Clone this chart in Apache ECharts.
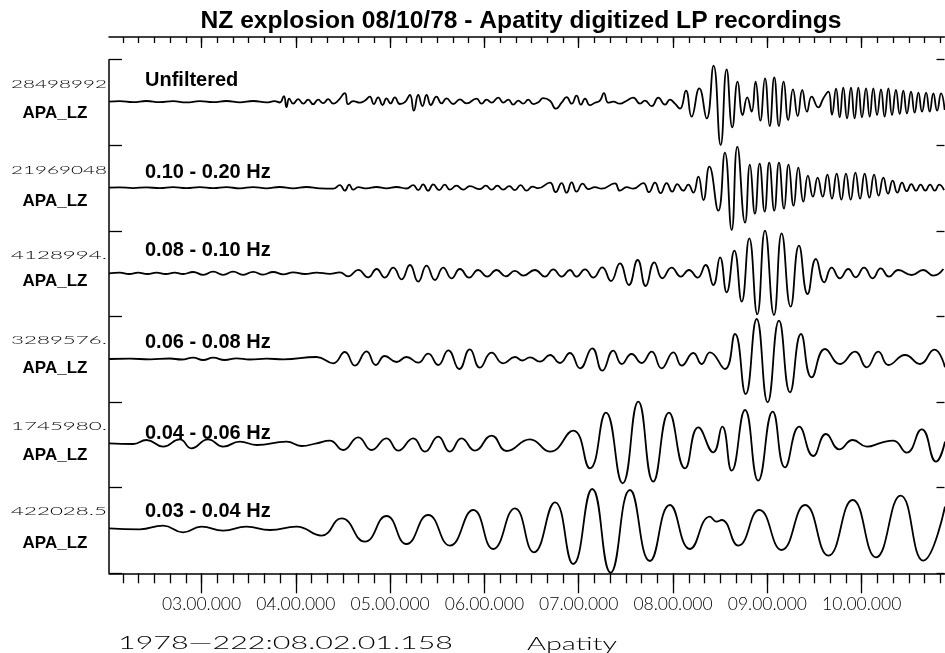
<!DOCTYPE html>
<html><head><meta charset="utf-8">
<script src="https://cdn.jsdelivr.net/npm/echarts@6/dist/echarts.min.js"></script>
<style>html,body{margin:0;padding:0;background:#fff}#c{width:945px;height:653px}</style>
</head><body><div id="c"></div>
<script>
// ---------------- DATA (time in seconds after 08:00:00, amplitude in plot units) ----------------
const titleText = 'NZ explosion 08/10/78 - Apatity digitized LP recordings';
const startTime = 121.158;   // 1978-222 08:02:01.158
const endTime = 652.7;
const majorTicks = [180, 240, 300, 360, 420, 480, 540, 600];
const tickLabels = ['03.00.000', '04.00.000', '05.00.000', '06.00.000', '07.00.000', '08.00.000', '09.00.000', '10.00.000'];
const scaleLabels = ['28498992', '21969048', '4128994.', '3289576.', '1745980.', '422028.5'];
const stationLabels = ['APA_LZ', 'APA_LZ', 'APA_LZ', 'APA_LZ', 'APA_LZ', 'APA_LZ'];
const bandLabels = ['Unfiltered', '0.10 - 0.20 Hz', '0.08 - 0.10 Hz', '0.06 - 0.08 Hz', '0.04 - 0.06 Hz', '0.03 - 0.04 Hz'];
const footerLeft = '1978\u2014222:08.02.01.158';
const footerRight = 'Apatity';

const trace1 = [[121.16,0],[128.0,0.5],[136.5,-0.5],[145.0,0.7],[153.5,-0.5],[161.9,0.5],[170.4,-0.7],[178.9,0.5],[187.4,-0.5],[195.9,0.7],[204.4,-0.7],[212.9,0.7],[221.3,-0.7],[226.5,0.5],[229.8,-0.8],[232.4,5.5],[234.1,-5.5],[235.8,3],[238.3,-2],[241.5,2.5],[244.7,-2],[247.9,2],[251.0,-2.5],[254.2,2],[257.4,-1.5],[260.6,2.5],[263.8,-2],[266.9,1],[271.2,8.5],[273.3,-2.5],[276.5,0.5],[280.7,-1],[283.9,1],[287.1,5],[289.6,-2.3],[292.4,4.3],[295.2,-3.3],[297.7,3.3],[300.3,-1.7],[303.0,4.3],[306.2,-2.3],[309.4,-0.5],[312.6,6.7],[315.1,-9],[317.9,6.7],[320.6,-4.3],[323.2,6.7],[325.9,-3.3],[329.5,5],[332.7,-1.7],[335.9,3.3],[340.1,-2.3],[344.4,2.3],[348.6,-1.7],[355.0,3],[358.2,-2],[361.4,2],[364.6,-1],[368.8,4],[372.0,-1],[375.2,2],[378.3,-3],[381.5,1],[384.7,-2],[387.9,2],[391.1,-2.5],[394.3,-0.5],[397.4,3.5],[401.7,1],[405.5,-7],[409.1,-1],[412.3,4.5],[415.5,-2],[418.6,6],[421.4,-3],[424.0,3],[427.1,-3.5],[430.3,-1],[433.5,1],[436.0,8.5],[438.8,-1],[442.0,0],[446.2,-2],[450.5,1],[454.7,4],[459.0,-2],[462.1,1],[466.4,-4.5],[470.6,4],[474.9,-3],[478.0,2],[481.2,-2],[484.4,-7],[488.2,11],[491.8,-15],[496.7,13.3],[501.4,-16.7],[505.8,36],[510.3,-43.3],[514.1,32.3],[517.7,-25.7],[521.1,20],[524.3,-13.3],[527.2,4.3],[530.0,-10],[532.5,20],[535.5,-19],[538.5,23.3],[541.5,-24.3],[544.4,24.3],[547.4,-24.3],[550.4,20],[553.3,-18.3],[556.3,12.3],[559.3,-14.3],[562.2,11.7],[565.2,-10],[568.2,5],[572.4,-5.7],[575.6,3.3],[578.8,10],[581.1,-13],[583.7,13],[586.0,-15.7],[588.3,14],[590.7,-16.7],[593.2,14],[595.5,-16.7],[597.9,14],[600.2,-15.7],[602.8,13.3],[605.1,-15],[607.4,13.3],[609.8,-13.3],[612.3,12.3],[614.6,-15],[617.0,13.3],[619.3,-13.3],[621.8,11.7],[624.2,-12.3],[626.5,11],[628.8,-11.7],[631.4,10],[633.7,-11],[636.1,9],[638.4,-10],[641.0,9],[643.3,-10],[645.6,8.3],[648.0,-9],[650.5,8.3],[652.8,-8.3]];

const trace2 = [[121.16,0],[128.0,0.4],[136.5,-0.4],[145.0,0.4],[153.5,-0.5],[161.9,0.5],[170.4,-0.5],[178.9,0.5],[187.4,-0.5],[195.9,0.5],[204.4,-0.6],[212.9,0.6],[221.3,-0.6],[229.8,0.7],[238.3,-0.7],[246.8,0.7],[255.3,-0.7],[263.8,-1],[268.0,2.5],[271.2,-3],[274.0,3],[276.5,-2],[279.7,0.5],[285.0,-0.7],[291.3,0.7],[297.7,-0.7],[304.1,0.7],[310.4,-0.8],[314.7,2.5],[317.9,-2.5],[321.0,3.3],[324.2,-3],[327.4,3.3],[331.2,-2.5],[334.8,3],[338.0,-2],[342.2,2],[346.5,-2],[350.7,1.5],[357.1,-1.5],[360.9,2],[364.6,-2],[368.2,2],[372.0,-2],[375.8,1.5],[379.4,-2.5],[383.0,2.5],[386.8,-3],[390.6,1],[394.3,-0.5],[401.7,5],[405.3,-4.5],[409.1,4.5],[412.3,-5],[415.5,5.3],[418.6,-4],[422.5,4],[426.1,-1.5],[430.3,0.5],[434.6,-1],[443.0,4.3],[446.2,-3],[450.5,0.5],[454.7,-1],[461.1,4.5],[464.7,-4.5],[468.5,5],[472.1,-5.5],[475.9,4.5],[479.5,-4],[482.7,3.5],[486.5,-3],[489.7,3],[492.9,-5],[496.1,11],[499.3,-12.3],[503.1,21],[508.8,-23],[513.0,35],[517.3,-42.3],[520.9,41],[525.8,-35],[528.9,23],[532.1,-26],[535.1,24],[538.3,-24],[541.2,25],[544.4,-23],[547.4,25],[550.6,-21],[553.5,23],[556.7,-18],[559.7,20],[562.9,-14],[565.8,12],[569.0,-9],[572.0,10],[575.2,-9],[578.2,13],[581.1,-11],[584.1,14],[587.1,-12],[590.0,14],[593.0,-12],[596.0,15],[599.0,-11],[601.9,14],[604.9,-10],[607.9,13],[610.8,-8],[613.8,10],[616.8,-6],[619.7,7],[622.7,-5],[625.7,5],[628.6,-3.5],[631.6,3.5],[634.6,-3],[637.5,3],[640.5,-3],[643.5,3],[646.5,-3],[649.4,3],[652.4,-2.5]];

const trace3 = [[121.16,0],[128.0,0.7],[134.0,-0.7],[139.7,0.7],[145.6,-0.7],[151.4,0.7],[157.3,-0.7],[163.0,0.7],[168.3,-0.7],[174.7,1.3],[181.1,-1.5],[187.4,1.7],[193.8,-1.5],[200.1,1.7],[206.5,-1.5],[212.9,1.5],[219.2,-1.3],[225.6,1.3],[232.0,-1],[238.3,1],[245.7,-0.7],[253.2,0.7],[261.6,-0.5],[268.0,1],[273.3,-3],[279.7,3.5],[286.0,-4],[291.4,4.3],[296.6,-4.3],[302.0,5.7],[307.3,-6],[312.6,8.3],[317.9,-8.3],[323.2,7.7],[328.5,-6.7],[333.8,5.7],[339.1,-5],[344.4,4.3],[350.3,-4.3],[356.0,3.3],[361.8,-3.3],[367.7,3.3],[373.6,-3],[379.4,2.5],[384.7,-2.3],[392.1,3.3],[398.5,-3.3],[403.8,4],[409.1,-3.3],[414.4,3.3],[418.6,-3.3],[424.0,4],[429.3,-4.3],[435.0,6],[440.5,-7.7],[446.2,10],[451.9,-11.7],[457.5,13.3],[462.6,-12.7],[468.1,11],[473.2,-5],[479.1,5.7],[485.0,-3.3],[490.1,3.3],[495.6,-4.3],[500.7,8.3],[505.6,-11.7],[509.9,16],[514.1,-19],[519.0,22.7],[523.7,-28.3],[528.5,35],[533.6,-41],[538.5,42.7],[544.2,-41.7],[549.1,40],[554.8,-33.3],[560.1,27.7],[565.6,-20.7],[570.9,14.3],[576.2,-9],[580.9,5.7],[586.2,-5],[591.5,4.3],[596.2,-4],[601.5,5.7],[607.0,-5],[612.1,5],[617.4,-3.3],[623.3,3.3],[631.8,-1.7],[639.2,3.3],[645.6,-2.3],[652.0,4.3]];

const trace4 = [[121.16,0],[134.4,0.3],[147.1,-0.3],[159.8,0.5],[167.3,-0.5],[174.7,1.3],[181.1,-1],[187.4,1.3],[194.8,-1],[202.3,0.7],[210.7,-0.5],[221.4,0.3],[232.0,-0.3],[253.2,2],[263.8,-4.3],[271.2,7],[277.6,-6.7],[285.0,7.7],[290.9,-6],[296.6,3],[304.1,-3],[310.4,2],[317.9,-3.7],[324.2,5.3],[330.6,-6],[337.0,8.7],[344.0,-10],[350.7,9.7],[357.1,-8.7],[364.5,6.3],[371.9,-4.3],[379.4,2],[384.2,-1.5],[389.0,1.7],[395.3,-2.7],[401.7,4],[408.0,-4],[414.4,6],[420.8,-9.3],[428.6,10.7],[435.0,-11.7],[442.0,8.3],[447.3,-5],[453.6,5],[460.0,-4],[466.4,7.3],[472.7,-9.3],[480.2,6.7],[485.5,-6.7],[492.9,6],[498.2,-5],[503.5,6.7],[513.0,-10],[519.4,25],[526.2,-35],[533.2,40],[540.2,-43.3],[547.4,38.3],[554.4,-33.3],[561.4,25],[568.2,-18.3],[576.7,10],[586.2,-5],[595.8,7.3],[603.2,-8.3],[610.6,7.3],[617.0,-6],[627.6,4],[637.1,-5],[646.2,9.3],[653.0,-8.3]];

const trace5 = [[121.16,0],[136.5,-0.7],[145.0,3.3],[155.6,-3.3],[166.2,4],[173.6,-5],[184.2,4],[193.8,-3.3],[204.4,1.7],[215.0,-1.7],[234.1,1.7],[243.6,-2.7],[253.2,0],[261.6,2.7],[270.1,-6.7],[279.7,6],[288.2,-6.7],[297.7,5],[305.1,-7.3],[314.7,5],[322.1,-8.3],[330.6,6.7],[338.0,-8.3],[345.4,5],[353.9,-7.3],[364.6,7.7],[374.1,-7.7],[389.0,4],[401.7,-8.3],[416.5,12.7],[427.1,-25],[437.3,30.7],[447.9,-40],[457.9,41.7],[467.4,-38.3],[477.4,30.7],[487.6,-25],[496.1,16],[505.6,-9],[511.3,16.7],[517.3,-27.3],[525.8,33.3],[534.2,-37.3],[543.4,31.7],[551.2,-24],[560.3,16.7],[569.2,-12.7],[577.3,9.3],[585.8,-6],[594.3,3.3],[603.2,-3.3],[612.7,0.7],[620.1,2.7],[628.6,-9.3],[638.2,14],[647.3,-18.3],[653.0,1.7]];

const trace6 = [[121.16,0],[140.7,-1],[155.6,2.7],[168.3,-4],[180.0,1.7],[193.8,-2.3],[208.6,1.7],[223.5,-1.7],[240.4,1.7],[256.3,-7.3],[269.1,10],[283.9,-13.3],[297.7,12.3],[310.4,-15.7],[324.2,13.3],[338.0,-17.3],[352.9,18.3],[365.6,-20.7],[379.4,20],[391.5,-24],[404.9,26],[416.5,-35.7],[428.6,39.3],[440.3,-44.3],[452.6,38.3],[465.3,-32.7],[478.0,23.3],[490.8,-20.7],[503.5,11.7],[507.7,6.7],[510.9,8.3],[521.5,-17.3],[534.9,18.3],[549.1,-21.7],[564.0,23.3],[578.8,-27.3],[594.3,28.3],[609.1,-29],[624.8,32.7],[639.2,-32.3],[653.0,21.7]];

const traces = [trace1, trace2, trace3, trace4, trace5, trace6];

// ---------------- LAYOUT ----------------
const plotLeft = 109, plotRight = 0.5;
const bandTop0 = 59.7, bandH = 85.55;
const baselines = [101.7, 187.7, 273.3, 359, 443.3, 528.3];
const scaleY = [84, 170.7, 255, 340, 426, 511];
const stationY = [113.3, 201, 281, 368, 455, 543];
const bandLabelY = [80, 172, 250, 342, 433.5, 511.5];

const minorTicks = [];
for (let s = 130; s <= 650; s += 10) minorTicks.push(s);

const chart = echarts.init(document.getElementById('c'), null, {renderer: 'canvas'});

const grids = [], xAxes = [], yAxes = [], series = [];
traces.forEach((d, k) => {
  const top = bandTop0 + k * bandH;
  grids.push({left: plotLeft, right: plotRight, top: top, height: bandH, outerBoundsMode: 'none', containLabel: false});
  xAxes.push({gridIndex: k, type: 'value', min: startTime, max: endTime, show: false});
  yAxes.push({gridIndex: k, type: 'value', max: baselines[k] - top, min: -(top + bandH - baselines[k]), show: false});
  series.push({
    type: 'line', xAxisIndex: k, yAxisIndex: k, data: d,
    symbol: 'none', showSymbol: false, smooth: 0.5, clip: false, silent: true,
    lineStyle: {color: '#000', width: 1.8}, animation: false
  });
});

// frame grid for time axes (index 6)
grids.push({left: plotLeft, right: plotRight, top: 37, height: 536.3, outerBoundsMode: 'none', containLabel: false});
const axLine = {show: true, onZero: false, lineStyle: {color: '#000', width: 1.5}};
const noLine = {show: false, onZero: false};
const tickStyle = {color: '#000', width: 1.3};
xAxes.push({gridIndex: 6, type: 'value', position: 'top', min: startTime, max: endTime, axisLine: axLine,
  axisTick: {show: true, inside: true, length: 6, customValues: minorTicks, lineStyle: tickStyle},
  axisLabel: {show: false}, splitLine: {show: false}});
xAxes.push({gridIndex: 6, type: 'value', position: 'top', min: startTime, max: endTime, axisLine: noLine,
  axisTick: {show: true, inside: true, length: 11, customValues: majorTicks, lineStyle: tickStyle},
  axisLabel: {show: false}, splitLine: {show: false}});
xAxes.push({gridIndex: 6, type: 'value', position: 'bottom', min: startTime, max: endTime, axisLine: axLine,
  axisTick: {show: true, inside: false, length: 10, customValues: minorTicks, lineStyle: tickStyle},
  axisLabel: {show: false}, splitLine: {show: false}});
xAxes.push({gridIndex: 6, type: 'value', position: 'bottom', min: startTime, max: endTime, axisLine: noLine,
  axisTick: {show: true, inside: false, length: 20, customValues: majorTicks, lineStyle: tickStyle},
  axisLabel: {show: true, customValues: majorTicks, margin: 22, color: '#000',
    fontFamily: 'Lato', fontWeight: 300, fontSize: 17.5,
    formatter: v => tickLabels[majorTicks.indexOf(Math.round(v))] || ''},
  splitLine: {show: false}});
yAxes.push({gridIndex: 6, type: 'value', min: 0, max: 1, show: false});

// side frame grid (index 7)
grids.push({left: plotLeft, right: plotRight, top: bandTop0, height: bandH * 6, outerBoundsMode: 'none', containLabel: false});
xAxes.push({gridIndex: 7, type: 'value', min: startTime, max: endTime, show: false});
yAxes.push({gridIndex: 7, type: 'value', position: 'left', min: 0, max: 6, interval: 1,
  axisLine: axLine, axisTick: {show: true, inside: true, length: 13, lineStyle: tickStyle},
  axisLabel: {show: false}, splitLine: {show: false}});
yAxes.push({gridIndex: 7, type: 'value', position: 'right', min: 0, max: 6, interval: 1,
  axisLine: noLine, axisTick: {show: true, inside: true, length: 8, lineStyle: tickStyle},
  axisLabel: {show: false}, splitLine: {show: false}});

// texts
const measureCtx = document.createElement('canvas').getContext('2d');
function textWidth(text, font) { measureCtx.font = font; return measureCtx.measureText(text).width; }
const graphics = [];
function txt(text, x, y, font, align, targetWidth) {
  const el = {type: 'text', x: x, y: y, silent: true,
    style: {text: text, font: font, fill: '#000', align: align, textAlign: align,
      verticalAlign: 'middle', textVerticalAlign: 'middle'}};
  if (targetWidth) { el.scaleX = targetWidth / textWidth(text, font); el.originX = 0; el.originY = 0; }
  graphics.push(el);
}
txt(titleText, 521, 21, 'bold 24.6px "Liberation Sans", Arial, sans-serif', 'center');
const scaleFont = '300 11.5px Lato, sans-serif';
for (let k = 0; k < 6; k++) {
  txt(scaleLabels[k], 107, scaleY[k], scaleFont, 'right', 96);
  txt(stationLabels[k], 55, stationY[k], 'bold 17px "Liberation Sans", Arial, sans-serif', 'center');
  txt(bandLabels[k], 145, bandLabelY[k], 'bold 20px "Liberation Sans", Arial, sans-serif', 'left');
}
txt(footerLeft, 118, 644, '300 17px Lato, sans-serif', 'left', 335);
txt(footerRight, 527, 645, '300 17px Lato, sans-serif', 'left', 90);

chart.setOption({
  animation: false,
  backgroundColor: '#fff',
  grid: grids,
  xAxis: xAxes,
  yAxis: yAxes,
  series: series,
  graphic: graphics
});
</script></body></html>
